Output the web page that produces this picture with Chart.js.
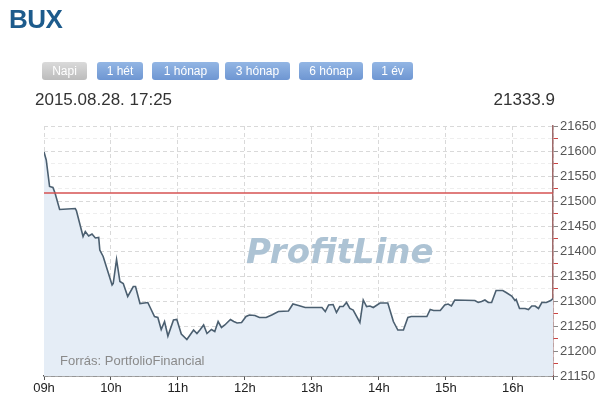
<!DOCTYPE html>
<html>
<head>
<meta charset="utf-8">
<script src="https://cdn.jsdelivr.net/npm/chart.js@4/dist/chart.umd.min.js"></script>
<style>
  html, body { margin: 0; padding: 0; background: #fff; }
  body { width: 612px; height: 404px; position: relative; overflow: hidden; font-family: "Liberation Sans", Arial, sans-serif; }
  #chart { position: absolute; left: 0; top: 0; }
  .abs { position: absolute; line-height: 1; white-space: nowrap; }
  #title { left: 9px; top: 6px; font-size: 26px; font-weight: bold; color: #1d5b8c; letter-spacing: -0.5px; }
  .btn { position: absolute; top: 62px; height: 18px; line-height: 18px; font-size: 12px; color: #fff; text-align: center; border-radius: 3px;
         background: linear-gradient(#93b6e4, #6e96d2); }
  .btn.off { background: linear-gradient(#dadada, #bcbcbc); }
  #stamp { left: 35px; top: 91px; font-size: 17px; color: #333; }
  #last { right: 57px; top: 91px; font-size: 17px; color: #333; }
  #source { left: 60px; top: 354px; font-size: 13px; color: #8a8a8a; }
  #mark { left: 246px; top: 234px; font-family: "DejaVu Sans", sans-serif; font-size: 34px; font-weight: bold; font-style: italic; color: #adc3d4; }
</style>
</head>
<body>
<canvas id="chart" width="612" height="404"></canvas>
<div id="title" class="abs">BUX</div>
<div class="btn off" style="left:42px;width:45px">Napi</div>
<div class="btn" style="left:97px;width:46px">1 hét</div>
<div class="btn" style="left:152px;width:67px">1 hónap</div>
<div class="btn" style="left:225px;width:65px">3 hónap</div>
<div class="btn" style="left:299px;width:64px">6 hónap</div>
<div class="btn" style="left:372px;width:41px">1 év</div>
<div id="stamp" class="abs">2015.08.28. 17:25</div>
<div id="last" class="abs">21333.9</div>
<div id="mark" class="abs">ProfitLine</div>
<div id="source" class="abs">Forrás: PortfolioFinancial</div>
<script>
// BUX intraday, 2015.08.28
const times = [
  "09:00", "09:02", "09:05", "09:08", "09:10", "09:14", "09:28", "09:29", "09:35", "09:37",
  "09:40", "09:43", "09:46", "09:49", "09:50", "09:53", "10:01", "10:02", "10:05", "10:08",
  "10:11", "10:15", "10:20", "10:22", "10:26", "10:33", "10:39", "10:42", "10:45", "10:48",
  "10:51", "10:56", "10:59", "11:03", "11:08", "11:14", "11:17", "11:20", "11:23", "11:26",
  "11:30", "11:33", "11:36", "11:39", "11:42", "11:47", "11:50", "11:53", "11:57", "12:01",
  "12:04", "12:09", "12:13", "12:19", "12:24", "12:30", "12:39", "12:43", "12:48", "12:54",
  "13:09", "13:12", "13:15", "13:19", "13:22", "13:25", "13:28", "13:31", "13:34", "13:37",
  "13:43", "13:46", "13:49", "13:52", "13:55", "14:01", "14:08", "14:13", "14:17", "14:22",
  "14:26", "14:29", "14:43", "14:46", "14:49", "14:55", "14:59", "15:02", "15:05", "15:08",
  "15:26", "15:29", "15:32", "15:35", "15:38", "15:41", "15:45", "15:51", "15:54", "15:59",
  "16:02", "16:03", "16:06", "16:11", "16:14", "16:17", "16:20", "16:23", "16:26", "16:30",
  "16:34", "16:36"
]
const values = [
  21598, 21582, 21529, 21527, 21515, 21483, 21485, 21481, 21429, 21439,
  21430, 21434, 21426, 21427, 21402, 21389, 21332, 21335, 21383, 21339,
  21335, 21309, 21329, 21329, 21295, 21297, 21269, 21267, 21243, 21259,
  21230, 21262, 21263, 21234, 21223, 21242, 21235, 21243, 21252, 21235,
  21243, 21239, 21259, 21247, 21252, 21263, 21259, 21256, 21257, 21269,
  21272, 21271, 21267, 21267, 21272, 21279, 21280, 21294, 21291, 21287,
  21287, 21279, 21292, 21293, 21277, 21289, 21289, 21297, 21285, 21282,
  21257, 21302, 21289, 21290, 21287, 21296, 21296, 21259, 21242, 21242,
  21267, 21269, 21269, 21283, 21281, 21281, 21292, 21294, 21290, 21302,
  21301, 21297, 21299, 21302, 21297, 21297, 21321, 21321, 21317, 21310,
  21301, 21303, 21285, 21285, 21283, 21290, 21290, 21285, 21297, 21297,
  21301, 21305
]
const prevClose = 21516
const hourLabels = ["09h", "10h", "11h", "12h", "13h", "14h", "15h", "16h"]
const yLabels = [21150, 21200, 21250, 21300, 21350, 21400, 21450, 21500, 21550, 21600, 21650]
const sessionEnd = "16:36"

// minutes since 09:00
function toMinutes(t) {
  const [h, m] = t.split(":").map(Number)
  return (h - 9) * 60 + m
}

const points = times.map((t, i) => ({ x: toMinutes(t), y: values[i] }))
const endX = toMinutes(sessionEnd)

const isMajor = (v) => yLabels.includes(v)

new Chart(document.getElementById("chart"), {
  type: "line",
  data: {
    datasets: [
      {
        data: points,
        order: 2,
        borderColor: "#4b5f70",
        borderWidth: 1.6,
        backgroundColor: "#e5edf6",
        fill: "start",
        pointRadius: 0,
        tension: 0,
      },
      {
        // previous close
        data: [{ x: 0, y: prevClose }, { x: endX, y: prevClose }],
        order: 1,
        borderColor: "#d65252",
        borderWidth: 1.5,
        fill: false,
        pointRadius: 0,
      },
    ],
  },
  options: {
    responsive: false,
    animation: false,
    events: [],
    layout: { padding: { left: 44, top: 126, right: 0, bottom: 0 } },
    plugins: { legend: { display: false }, tooltip: { enabled: false } },
    scales: {
      x: {
        type: "linear",
        min: 0,
        max: endX,
        afterFit: (s) => { s.height = 28; s.paddingLeft = 0; s.paddingRight = 0 },
        ticks: {
          stepSize: 60,
          autoSkip: false,
          maxRotation: 0,
          padding: 1,
          color: "#222",
          font: { family: "Liberation Sans", size: 13 },
          callback: (v) => hourLabels[v / 60] || "",
        },
        grid: { color: "#d9d9d9", tickColor: "#555", tickLength: 4 },
        border: { color: "#555", width: 1.5, dash: [4, 3] },
      },
      y: {
        position: "right",
        min: 21150,
        max: 21650,
        afterFit: (s) => { s.width = 59; s.paddingTop = 0; s.paddingBottom = 0 },
        ticks: {
          stepSize: 25,
          autoSkip: false,
          padding: 2,
          color: "#555",
          font: { family: "Liberation Sans", size: 13 },
          callback: (v) => (isMajor(v) ? String(v) : ""),
        },
        grid: {
          color: (c) => (c.tick && isMajor(c.tick.value) ? "#d9d9d9" : "#eeeeee"),
          tickColor: (c) => (c.tick && isMajor(c.tick.value) ? "#888" : "#cc4444"),
          tickLength: 5,
        },
        border: { color: "#a06a6a", width: 1.5, dash: [4, 3] },
      },
    },
  },
})
</script>
</body>
</html>
